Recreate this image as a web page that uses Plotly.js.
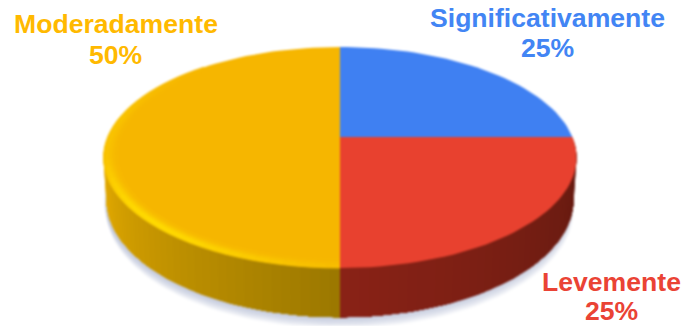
<!DOCTYPE html>
<html>
<head>
<meta charset="utf-8">
<script src="https://cdn.plot.ly/plotly-3.0.1.min.js"></script>
<style>
html,body{margin:0;padding:0;background:#fff}
#chart{width:684px;height:326px}
/* Softens the shaded disc; the labels sit in a separate layer above it */
#chart .svg-container > svg.main-svg:first-child{filter:blur(0.8px)}
</style>
</head>
<body>
<div id="chart"></div>
<script>
// Survey answers, in the order they run clockwise from twelve o'clock
const categories = ['Significativamente', 'Levemente', 'Moderadamente'];
const values = [25, 25, 50];
const labelColors = ['#4285F4', '#EA4335', '#FFB900'];
const faceColors = ['#3F80F2', '#E8412F', '#F6B600'];
const rimColors = ['#3F80F2', '#E8412F', '#FFDC00'];
const wallNear = ['#2A5AB0', '#8A2216', '#9A7700'];
const wallFar = ['#2A5AB0', '#641A10', '#E6AC00'];

// Perspective disc, laid out on a pixel-sized plotting area
const disc = {cx: 340, cy: 137, a: 232.4, b: 106.7, k: 0.1856, depth: 40};
const labelPlaces = [
  {x: 547.5, name: 18, share: 48},
  {x: 611, name: 282, share: 311},
  {x: 115.5, name: 24, share: 55}
];
const total = values.reduce((s, v) => s + v, 0);
const rad = d => d * Math.PI / 180;

function project(deg, r, down) {
  const t = rad(deg);
  const s = 1 / (1 + disc.k * r * Math.sin(t));
  return [
    disc.cx + disc.a * r * Math.cos(t) * s * (1 - 0.012 * down),
    disc.cy - disc.b * r * Math.sin(t) * s + down * disc.depth * s
  ];
}
function hex(c) { return [1, 3, 5].map(i => parseInt(c.substr(i, 2), 16)); }
function mix(c1, c2, w) {
  const a = hex(c1), b = hex(c2);
  return 'rgb(' + a.map((v, i) => Math.round(v + (b[i] - v) * w)).join(',') + ')';
}
function poly(points, color, extra) {
  return Object.assign({
    type: 'scatter', mode: 'lines', hoverinfo: 'skip', showlegend: false,
    x: points.map(p => p[0]), y: points.map(p => p[1]),
    fill: 'toself', fillcolor: color,
    line: {width: 0}
  }, extra || {});
}
function arc(from, to, r, down) {
  const pts = [], n = Math.max(2, Math.ceil(Math.abs(to - from) / 2));
  for (let i = 0; i <= n; i++) pts.push(project(from + (to - from) * i / n, r, down));
  return pts;
}

const traces = [];

// Soft shadow under the disc
for (let i = 1; i <= 8; i++) {
  const ring = arc(0, 360, 1, 1).map(p => [p[0] - 2.5 + i * 0.3, p[1] + i * 1.4]);
  traces.push(poly(ring, 'rgba(150,160,195,0.085)'));
}

// Slice spans in degrees, clockwise from the top
const spans = [];
let running = 90;
values.forEach(v => {
  const sweep = v / total * 360;
  spans.push([running, running - sweep]);
  running -= sweep;
});

// Side wall: each wedge of the front repaints the rest of its slice a shade on,
// so neighbouring strips share one edge and leave no seams
function wallBand(from, to, color) {
  return poly(arc(from, to, 1, 0).concat(arc(to, from, 1, 1)), color);
}
spans.forEach((span, idx) => {
  const front = [];
  for (let wrap = 0; wrap <= 360; wrap += 360) {
    const a = Math.max(span[1] + wrap, -180), b = Math.min(span[0] + wrap, 0);
    if (b > a) front.push([a, b]);
  }
  front.forEach(range => {
    const shade = d => mix(wallNear[idx], wallFar[idx], Math.min(1, Math.abs(d + 90) / 80));
    const farEnd = Math.abs(range[0] + 90) > Math.abs(range[1] + 90) ? range[0] : range[1];
    const nearEnd = farEnd === range[0] ? range[1] : range[0];
    const dir = nearEnd > farEnd ? 1 : -1;
    for (let d = farEnd; dir * (nearEnd - d) > 0; d += dir * 2) {
      traces.push(wallBand(d, nearEnd, shade(d)));
    }
  });
});

// Top face of each slice
spans.forEach((span, idx) => {
  const outline = [[disc.cx, disc.cy]].concat(arc(span[0], span[1], 1, 0));
  traces.push(poly(outline, faceColors[idx]));
});

// Bevelled rim catching the light along the front edge
const bands = [[1, 0.988, 0.8], [0.988, 0.976, 1], [0.976, 0.964, 0.7], [0.964, 0.952, 0.35], [0.952, 0.94, 0.12]];
spans.forEach((span, idx) => {
  if (rimColors[idx] === faceColors[idx]) return;
  const step = 3;
  for (let d = span[0]; d > span[1]; d -= step) {
    const e = Math.max(d - step, span[1]);
    const mid = (((d + e) / 2) % 360 + 360) % 360;
    const peak = Math.exp(-Math.pow((mid - 225) / 35, 2));
    const side = mid < 225 ? 0.35 * Math.min(1, Math.max(0, (mid - 130) / 40)) : 0;
    const glow = Math.max(peak, side);
    if (glow <= 0.02) continue;
    bands.forEach(b => {
      const color = mix(faceColors[idx], rimColors[idx], glow * b[2]);
      traces.push(poly([project(d, b[0], 0), project(e, b[0], 0), project(e, b[1], 0), project(d, b[1], 0)], color, {line: {color: color, width: 0.8}}));
    });
  }
});

// Two stacked lines per slice: the answer and its share
const annotations = [];
categories.forEach((name, i) => {
  const base = {xref: 'x', yref: 'y', x: labelPlaces[i].x, showarrow: false, xanchor: 'center', yanchor: 'middle'};
  const font = {family: 'Liberation Sans, Arial, sans-serif', size: 26.6, color: labelColors[i]};
  annotations.push(Object.assign({}, base, {y: labelPlaces[i].name, text: '<b>' + name + '</b>', font: font}));
  annotations.push(Object.assign({}, base, {y: labelPlaces[i].share, text: '<b>' + values[i] + '%</b>', font: font}));
});

Plotly.newPlot('chart', traces, {
  width: 684, height: 326,
  margin: {l: 0, r: 0, t: 0, b: 0},
  paper_bgcolor: '#ffffff', plot_bgcolor: '#ffffff',
  showlegend: false,
  xaxis: {range: [0, 684], visible: false, fixedrange: true},
  yaxis: {range: [326, 0], visible: false, fixedrange: true},
  annotations: annotations
}, {displayModeBar: false, staticPlot: true});
</script>
</body>
</html>
